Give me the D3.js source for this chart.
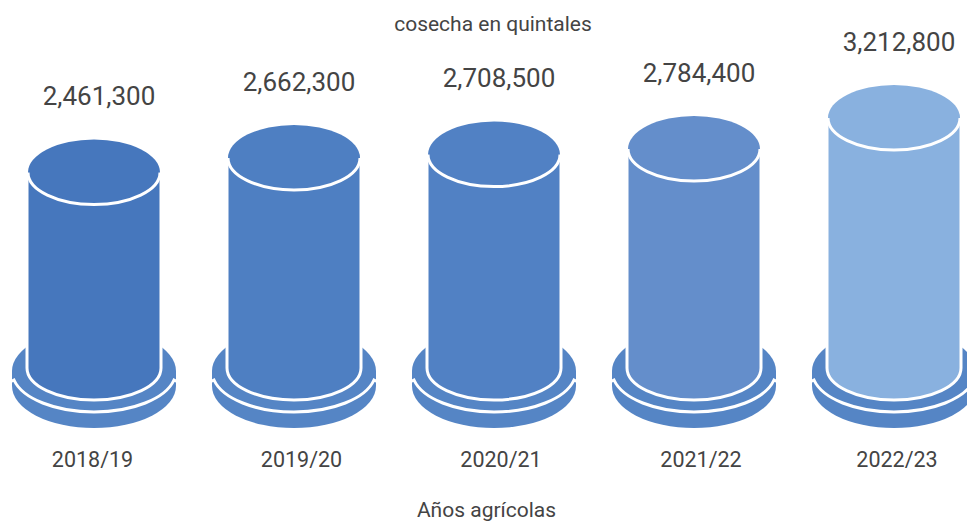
<!DOCTYPE html>
<html><head><meta charset="utf-8">
<script src="https://cdn.jsdelivr.net/npm/d3@7"></script>
<style>html,body{margin:0;padding:0;background:#fff;overflow:hidden}svg{display:block}text{font-family:Roboto,sans-serif;fill:#444}</style>
</head><body><svg id="c" width="967" height="521"></svg>
<script>
const categories = ["2018/19","2019/20","2020/21","2021/22","2022/23"];
const values = [2461300,2662300,2708500,2784400,3212800];
const colors = ["#4677bd","#4e7fc2","#5181c4","#648ecb","#89b1df"];
const labelShift = [-1.5,7.5,7,7,3];
const baseColor = "#5585c5";
const yTitle = "cosecha en quintales", xTitle = "Años agrícolas";

const svg = d3.select("#c");
const x = d3.scalePoint().domain(categories).range([94,894]);
const y = d3.scaleLinear().domain([0,3212800]).range([351,118]);
const rx=66, ry=33, floorY=368, dRx=82, dRy=42, d1=371, d2=386;
const fmt = d3.format(",");

categories.forEach((c,i)=>{
  const g = svg.append("g").attr("transform",`translate(${x(c)},0)`);
  const top = y(values[i]);
  // lower disc
  g.append("path").attr("fill",baseColor)
    .attr("d",`M${-dRx},${d1}A${dRx},${dRy} 0 0 1 ${dRx},${d1}L${dRx},${d2}A${dRx},${dRy} 0 0 1 ${-dRx},${d2}Z`);
  // white rim of upper disc
  g.append("path").attr("fill","none").attr("stroke","#fff").attr("stroke-width",3)
    .attr("d",`M${-dRx-2},${d1+11}L-80,${d1+9}A${dRx},${dRy-1} 0 0 0 80,${d1+9}L${dRx+2},${d1+11}`);
  // body
  g.append("path").attr("fill",colors[i]).attr("stroke","#fff").attr("stroke-width",3)
    .attr("d",`M${-rx-1},${top}L${-rx-1},${floorY}A${rx+1},${ry-1} 0 0 0 ${rx+1},${floorY}L${rx+1},${top}Z`);
  // top cap
  g.append("ellipse").attr("cy",top).attr("rx",rx).attr("ry",ry).attr("fill",colors[i]);
  g.append("path").attr("fill","none").attr("stroke","#fff").attr("stroke-width",3)
    .attr("d",`M${-rx},${top}A${rx},${ry-1} 0 0 0 ${rx},${top}`);
  g.append("rect").attr("x",-rx-3).attr("y",top-ry-2).attr("width",3).attr("height",ry+2+floorY-top-40).attr("fill","#fff");
  g.append("rect").attr("x",rx).attr("y",top-ry-2).attr("width",3).attr("height",ry+2+floorY-top-40).attr("fill","#fff");
  // labels
  g.append("text").attr("y",top-76.5).attr("dy","0.35em").attr("text-anchor","middle")
    .attr("x",5).style("font-size","26px").text(fmt(values[i]));
  g.append("text").attr("x",labelShift[i]).attr("y",467).attr("text-anchor","middle")
    .style("font-size","21.5px").text(c);
});
svg.append("text").attr("x",493).attr("y",31).attr("text-anchor","middle").style("font-size","21px").text(yTitle);
svg.append("text").attr("x",486.5).attr("y",517).attr("text-anchor","middle").style("font-size","21px").text(xTitle);
</script></body></html>
